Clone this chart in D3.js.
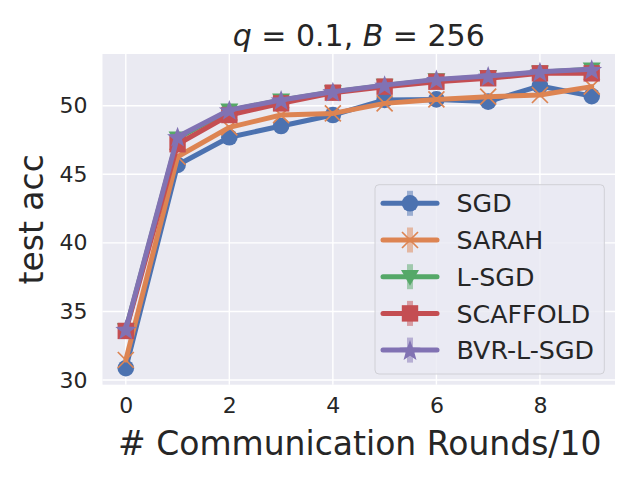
<!DOCTYPE html>
<html>
<head>
<meta charset="utf-8">
<script src="https://cdn.jsdelivr.net/npm/d3@7"></script>
<style>
  html, body { margin: 0; padding: 0; background: #ffffff; }
  svg { display: block; font-family: "DejaVu Sans", sans-serif; }
</style>
</head>
<body>
<svg id="chart" width="640" height="480"></svg>
<script>
const rounds = [0, 1, 2, 3, 4, 5, 6, 7, 8, 9];
const seriesNames = ["SGD", "SARAH", "L-SGD", "SCAFFOLD", "BVR-L-SGD"];
const sgd      = [30.86, 45.68, 47.70, 48.52, 49.32, 50.42, 50.46, 50.30, 51.44, 50.70];
const sarah    = [31.46, 46.28, 48.42, 49.32, 49.44, 50.17, 50.46, 50.66, 50.78, 51.39];
const lsgd     = [33.65, 47.62, 49.66, 50.40, 51.00, 51.48, 51.88, 52.12, 52.44, 52.66];
const scaffold = [33.58, 47.19, 49.32, 50.17, 50.95, 51.39, 51.75, 52.00, 52.36, 52.36];
const bvr      = [33.70, 47.74, 49.69, 50.42, 51.02, 51.50, 51.92, 52.16, 52.48, 52.65];
const xTicks = [0, 2, 4, 6, 8];
const yTicks = [30, 35, 40, 45, 50];
const titleParts = [["q", true], [" = 0.1, ", false], ["B", true], [" = 256", false]];
const xLabel = "# Communication Rounds/10";
const yLabel = "test acc";

const colors = ["#4c72b0", "#dd8452", "#55a868", "#c44e52", "#8172b3"];
const markers = ["circle", "x", "tri", "square", "star"];
const allSeries = [sgd, sarah, lsgd, scaffold, bvr];

const svg = d3.select("#chart");
const L = 102.5, R = 615, T = 54, B = 384.7;

const x = d3.scaleLinear().domain([-0.45, 9.45]).range([L, R]);
const y = d3.scaleLinear().domain([29.66, 53.77]).range([B, T]);

svg.append("rect").attr("x", L).attr("y", T).attr("width", R - L).attr("height", B - T).attr("fill", "#eaeaf2");

// grid
svg.append("g").selectAll("line").data(xTicks).join("line")
  .attr("x1", d => x(d)).attr("x2", d => x(d)).attr("y1", T).attr("y2", B)
  .attr("stroke", "#ffffff").attr("stroke-width", 1.4);
svg.append("g").selectAll("line").data(yTicks).join("line")
  .attr("y1", d => y(d)).attr("y2", d => y(d)).attr("x1", L).attr("x2", R)
  .attr("stroke", "#ffffff").attr("stroke-width", 1.4);

// axes (tick labels only)
const xAxis = svg.append("g").attr("transform", `translate(0,${B})`)
  .call(d3.axisBottom(x).tickValues(xTicks).tickSize(0).tickPadding(13));
const yAxis = svg.append("g").attr("transform", `translate(${L},0)`)
  .call(d3.axisLeft(y).tickValues(yTicks).tickSize(0).tickPadding(15));
[xAxis, yAxis].forEach(a => {
  a.select(".domain").remove();
  a.selectAll("text").attr("font-size", 22).attr("fill", "#262626").attr("font-family", "DejaVu Sans");
});

function drawMarker(g, type, cx, cy, color) {
  if (type === "circle") {
    g.append("circle").attr("cx", cx).attr("cy", cy).attr("r", 8.3).attr("fill", color);
  } else if (type === "square") {
    g.append("rect").attr("x", cx - 8.2).attr("y", cy - 8.2).attr("width", 16.4).attr("height", 16.4).attr("fill", color);
  } else if (type === "tri") {
    const s = 9;
    g.append("path").attr("d", `M${cx - s},${cy - s * 0.75}L${cx + s},${cy - s * 0.75}L${cx},${cy + s}Z`).attr("fill", color);
  } else if (type === "star") {
    const pts = [];
    for (let i = 0; i < 10; i++) {
      const r = i % 2 === 0 ? 11 : 4.6;
      const a = -Math.PI / 2 + i * Math.PI / 5;
      pts.push([cx + r * Math.cos(a), cy + 1 + r * Math.sin(a)]);
    }
    g.append("path").attr("d", "M" + pts.map(p => p.join(",")).join("L") + "Z").attr("fill", color);
  } else if (type === "x") {
    const s = 8;
    g.append("path").attr("d", `M${cx - s},${cy - s}L${cx + s},${cy + s}M${cx - s},${cy + s}L${cx + s},${cy - s}`)
      .attr("stroke", color).attr("stroke-width", 1.7).attr("fill", "none");
  }
}

const line = d3.line().x((d, i) => x(rounds[i])).y(d => y(d));
allSeries.forEach((vals, k) => {
  const g = svg.append("g");
  g.append("path").datum(vals).attr("d", line).attr("fill", "none")
    .attr("stroke", colors[k]).attr("stroke-width", 5).attr("stroke-linejoin", "round").attr("stroke-linecap", "round");
  vals.forEach((v, i) => drawMarker(g, markers[k], x(rounds[i]), y(v), colors[k]));
});

// legend
const lg = svg.append("g");
lg.append("rect").attr("x", 375).attr("y", 184.7).attr("width", 229.3).attr("height", 189.3)
  .attr("rx", 4).attr("fill", "#eaeaf2").attr("fill-opacity", 0.8).attr("stroke", "#d0d0d6").attr("stroke-width", 1);
seriesNames.forEach((name, k) => {
  const cy = 203.3 + k * 36.7;
  const g = lg.append("g");
  g.append("line").attr("x1", 410).attr("x2", 410).attr("y1", cy - 12.5).attr("y2", cy + 12.5)
    .attr("stroke", colors[k]).attr("stroke-opacity", 0.5).attr("stroke-width", 6);
  g.append("line").attr("x1", 383).attr("x2", 437).attr("y1", cy).attr("y2", cy)
    .attr("stroke", colors[k]).attr("stroke-width", 5).attr("stroke-linecap", "round");
  drawMarker(g, markers[k], 410, cy, colors[k]);
  g.append("text").attr("x", 456.5).attr("y", cy).attr("dy", "0.36em")
    .attr("font-size", 25.3).attr("fill", "#262626").text(name);
});

// title
const title = svg.append("text").attr("x", (L + R) / 2).attr("y", 46).attr("text-anchor", "middle")
  .attr("font-size", 30).attr("fill", "#262626");
titleParts.forEach(([t, it]) => {
  title.append("tspan").attr("font-style", it ? "italic" : "normal").attr("xml:space", "preserve").text(t);
});

svg.append("text").attr("x", (L + R) / 2 + 1).attr("y", 455).attr("text-anchor", "middle")
  .attr("font-size", 33).attr("fill", "#262626").text(xLabel);
svg.append("text").attr("transform", `translate(43,${(T + B) / 2}) rotate(-90)`).attr("text-anchor", "middle")
  .attr("font-size", 33).attr("fill", "#262626").text(yLabel);
</script>
</body>
</html>
